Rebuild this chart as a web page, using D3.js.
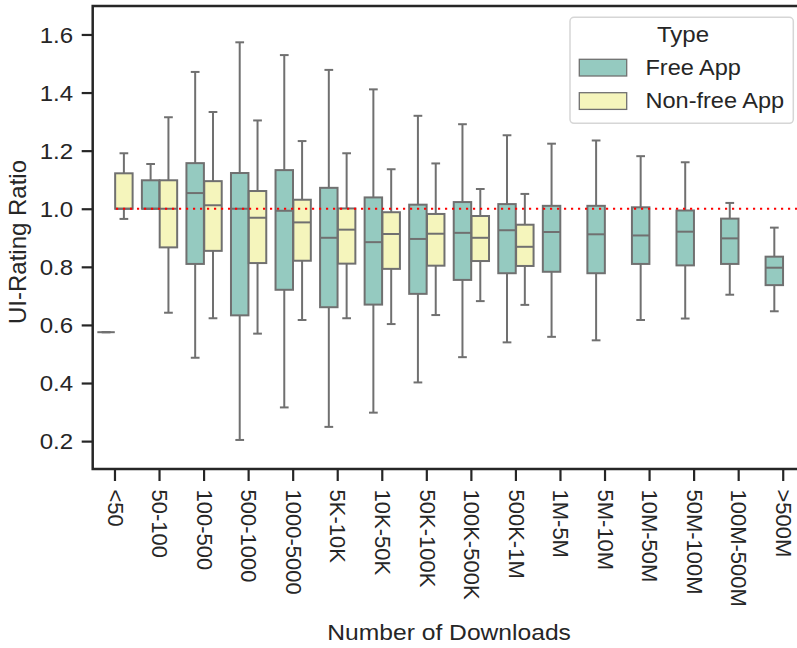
<!DOCTYPE html>
<html>
<head>
<meta charset="utf-8">
<script src="https://cdn.jsdelivr.net/npm/d3@7"></script>
<style>
  body { margin: 0; background: #fff; }
  svg text { font-family: "Liberation Sans", Arial, sans-serif; fill: #262626; }
</style>
</head>
<body>
<script>
// categories (number of downloads)
var categories = ['<50', '50-100', '100-500', '500-1000', '1000-5000', '5K-10K', '10K-50K', '50K-100K',
  '100K-500K', '500K-1M', '1M-5M', '5M-10M', '10M-50M', '50M-100M', '100M-500M', '>500M'];

var types = ['Free App', 'Non-free App'];

// free apps: lower whisker, q1, median, q3, upper whisker
var freeLow  = [0.575, 1.000, 0.487, 0.204, 0.316, 0.249, 0.298, 0.402, 0.489, 0.540, 0.559, 0.547, 0.617, 0.622, 0.704, 0.647];
var freeQ1   = [0.575, 1.000, 0.810, 0.633, 0.721, 0.661, 0.670, 0.707, 0.755, 0.778, 0.783, 0.778, 0.810, 0.805, 0.810, 0.737];
var freeMed  = [0.575, 1.000, 1.054, 1.000, 0.993, 0.900, 0.885, 0.896, 0.917, 0.926, 0.920, 0.912, 0.908, 0.921, 0.898, 0.797];
var freeQ3   = [0.575, 1.098, 1.157, 1.123, 1.133, 1.072, 1.039, 1.014, 1.023, 1.016, 1.010, 1.010, 1.005, 0.994, 0.966, 0.835];
var freeHigh = [0.575, 1.154, 1.471, 1.573, 1.529, 1.478, 1.411, 1.320, 1.291, 1.253, 1.224, 1.235, 1.181, 1.160, 1.020, 0.935];

// non-free apps (null = no data)
var paidLow  = [0.965, 0.642, 0.623, 0.570, 0.617, 0.623, 0.603, 0.634, 0.682, 0.669, null, null, null, null, null, null];
var paidQ1   = [1.000, 0.867, 0.855, 0.813, 0.821, 0.811, 0.793, 0.804, 0.820, 0.803, null, null, null, null, null, null];
var paidMed  = [1.000, 1.000, 1.012, 0.969, 0.953, 0.928, 0.913, 0.914, 0.900, 0.869, null, null, null, null, null, null];
var paidQ3   = [1.122, 1.098, 1.095, 1.061, 1.031, 1.001, 0.988, 0.982, 0.975, 0.945, null, null, null, null, null, null];
var paidHigh = [1.191, 1.315, 1.333, 1.304, 1.233, 1.191, 1.136, 1.156, 1.068, 1.051, null, null, null, null, null, null];

var yTicks = [0.2, 0.4, 0.6, 0.8, 1.0, 1.2, 1.4, 1.6];
var refLine = 1.0;

var colors = { 'Free App': '#95cac0', 'Non-free App': '#f5f5bc' };
var lineGray = '#707070';
var sx = 1.12; // text in the picture is a bit wide

function buildBoxes() {
  var out = [];
  categories.forEach(function(c, i) {
    out.push({ cat: c, type: 'Free App', lo: freeLow[i], q1: freeQ1[i], med: freeMed[i], q3: freeQ3[i], hi: freeHigh[i] });
    if (paidMed[i] != null) {
      out.push({ cat: c, type: 'Non-free App', lo: paidLow[i], q1: paidQ1[i], med: paidMed[i], q3: paidQ3[i], hi: paidHigh[i] });
    }
  });
  return out;
}

function drawChart(data) {
  const w = 797, h = 648;
  const left = 92.7, right = 805.5, top = 6, bottom = 469;

  const xScale = d3.scaleBand().domain(categories).range([left, right]);
  const yScale = d3.scaleLinear().domain([0.104, 1.698]).range([bottom, top]);

  const bw = xScale.bandwidth();
  const boxW = bw * 0.4 * 0.98;
  const centerOf = d => xScale(d.cat) + bw / 2 + (d.type === 'Free App' ? -1 : 1) * bw * 0.2;

  const svg = d3.select('body').append('svg')
    .attr('width', w)
    .attr('height', h);

  // boxes
  const g = svg.append('g').attr('class', 'boxes');
  const box = g.selectAll('g.box')
    .data(data)
    .enter()
    .append('g')
    .attr('class', 'box');

  box.append('line')
    .attr('x1', centerOf).attr('x2', centerOf)
    .attr('y1', d => yScale(d.q3)).attr('y2', d => yScale(d.hi));
  box.append('line')
    .attr('x1', centerOf).attr('x2', centerOf)
    .attr('y1', d => yScale(d.q1)).attr('y2', d => yScale(d.lo));
  box.append('line')
    .attr('x1', d => centerOf(d) - boxW / 4).attr('x2', d => centerOf(d) + boxW / 4)
    .attr('y1', d => yScale(d.hi)).attr('y2', d => yScale(d.hi));
  box.append('line')
    .attr('x1', d => centerOf(d) - boxW / 4).attr('x2', d => centerOf(d) + boxW / 4)
    .attr('y1', d => yScale(d.lo)).attr('y2', d => yScale(d.lo));
  box.append('rect')
    .attr('x', d => centerOf(d) - boxW / 2)
    .attr('width', boxW)
    .attr('y', d => yScale(d.q3))
    .attr('height', d => yScale(d.q1) - yScale(d.q3))
    .attr('fill', d => colors[d.type]);
  box.append('line')
    .attr('x1', d => centerOf(d) - boxW / 2).attr('x2', d => centerOf(d) + boxW / 2)
    .attr('y1', d => yScale(d.med)).attr('y2', d => yScale(d.med));
  box.selectAll('line, rect')
    .attr('stroke', lineGray)
    .attr('stroke-width', 2);

  // reference line at 1.0
  svg.append('line')
    .attr('x1', xScale(categories[0]) + bw / 2 + 1)
    .attr('x2', right)
    .attr('y1', yScale(refLine)).attr('y2', yScale(refLine))
    .attr('stroke', '#ff0000')
    .attr('stroke-width', 2.2)
    .attr('stroke-dasharray', '2.2,4.8');

  // axes
  const yAxis = d3.axisLeft(yScale).tickValues(yTicks).tickFormat(d3.format('.1f')).tickSize(11).tickSizeOuter(0);
  const yg = svg.append('g')
    .attr('transform', 'translate(' + left + ',0)')
    .call(yAxis);
  yg.select('.domain').remove();
  yg.selectAll('line').attr('stroke', '#262626').attr('stroke-width', 2.2);
  yg.selectAll('text')
    .attr('x', null).attr('dy', '0.36em')
    .attr('transform', 'translate(-19.5,0) scale(' + sx + ',1)')
    .style('font-size', '21.5px')
    .attr('fill', '#262626');

  const xAxis = d3.axisBottom(xScale).tickSize(12).tickSizeOuter(0);
  const xg = svg.append('g')
    .attr('transform', 'translate(0,' + bottom + ')')
    .call(xAxis);
  xg.select('.domain').remove();
  xg.selectAll('line').attr('stroke', '#262626').attr('stroke-width', 2.2);
  xg.selectAll('text')
    .attr('y', null).attr('dy', '0.36em')
    .attr('text-anchor', 'start')
    .attr('transform', 'translate(1,20.5) scale(1.04,1) rotate(90)')
    .style('font-size', '22px')
    .attr('fill', '#262626');

  // frame
  svg.append('rect')
    .attr('x', left).attr('y', top)
    .attr('width', right - left).attr('height', bottom - top)
    .attr('fill', 'none')
    .attr('stroke', '#262626')
    .attr('stroke-width', 2.5);

  // axis titles
  svg.append('text')
    .attr('transform', 'translate(' + ((left + right) / 2) + ',640) scale(' + sx + ',1)')
    .attr('text-anchor', 'middle')
    .style('font-size', '22px')
    .text('Number of Downloads');

  svg.append('text')
    .attr('transform', 'translate(26,242) rotate(-90)')
    .attr('text-anchor', 'middle')
    .style('font-size', '24px')
    .text('UI-Rating Ratio');

  // legend
  const lg = svg.append('g').attr('class', 'legend');
  lg.append('rect')
    .attr('x', 570).attr('y', 17.3)
    .attr('width', 223.3).attr('height', 106)
    .attr('rx', 4)
    .attr('fill', '#fff').attr('fill-opacity', 0.8)
    .attr('stroke', '#d6d6d6').attr('stroke-width', 1.5);
  lg.append('text')
    .attr('transform', 'translate(683,42) scale(' + sx + ',1)')
    .attr('text-anchor', 'middle')
    .style('font-size', '21.5px')
    .text('Type');
  types.forEach(function(t, i) {
    lg.append('rect')
      .attr('x', 579.3).attr('y', 59.3 + i * 33.4)
      .attr('width', 47.4).attr('height', 16.7)
      .attr('fill', colors[t])
      .attr('stroke', lineGray).attr('stroke-width', 1.3);
    lg.append('text')
      .attr('transform', 'translate(645.5,' + (75 + i * 33.4) + ') scale(1.07,1)')
      .style('font-size', '22px')
      .text(t);
  });
}

drawChart(buildBoxes());
</script>
</body>
</html>
